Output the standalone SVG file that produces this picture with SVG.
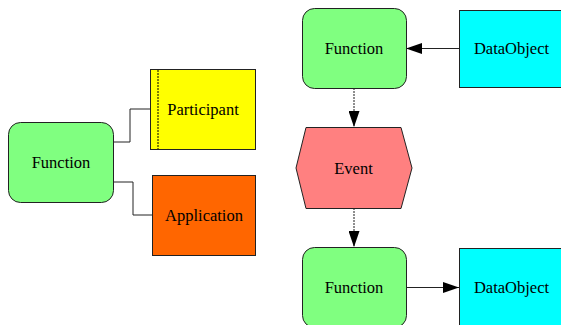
<svg xmlns="http://www.w3.org/2000/svg" width="561" height="325" viewBox="0 0 561 325">
  <style>
    text { font-family: "Liberation Serif", "DejaVu Serif", serif; font-size: 16.5px; fill: #000; text-anchor: middle; }
    .fn { fill: #80ff80; stroke: #222; stroke-width: 1; }
    .data { fill: #00ffff; stroke: #222; stroke-width: 1; }
    .ev { fill: #ff8080; stroke: #222; stroke-width: 1; }
    .part { fill: #ffff00; stroke: #222; stroke-width: 1; }
    .app { fill: #ff6600; stroke: #222; stroke-width: 1; }
    .link { fill: none; stroke: #222; stroke-width: 1; }
    .flow { fill: none; stroke: #444; stroke-width: 1.2; stroke-dasharray: 2 1; }
  </style>
  <defs>
    <marker id="arrow" viewBox="0 0 16 11" refX="16" refY="5.5" markerWidth="16" markerHeight="11" markerUnits="userSpaceOnUse" orient="auto">
      <path d="M0,0 L16,5.5 L0,11 Z" fill="#000"/>
    </marker>
  </defs>
  <rect width="561" height="325" fill="#fff"/>

  <g id="connectors">
    <polyline class="link" points="113,142 130,142 130,109 150,109"/>
    <polyline class="link" points="113,182 133,182 133,215 152,215"/>
    <line class="link" x1="459" y1="48.5" x2="406" y2="48.5" marker-end="url(#arrow)"/>
    <line class="flow" x1="354" y1="88" x2="354" y2="127" marker-end="url(#arrow)"/>
    <line class="flow" x1="354" y1="208" x2="354" y2="247" marker-end="url(#arrow)"/>
    <line class="link" x1="406" y1="287.5" x2="459" y2="287.5" marker-end="url(#arrow)"/>
  </g>

  <g id="function-left">
    <rect class="fn" x="8.5" y="122.5" width="105" height="80" rx="12"/>
    <text x="61" y="168">Function</text>
  </g>
  <g id="participant">
    <rect class="part" x="150.5" y="69.5" width="105" height="80"/>
    <line x1="158" y1="70" x2="158" y2="149" stroke="#000" stroke-width="1" stroke-dasharray="2 1"/>
    <text x="203" y="115">Participant</text>
  </g>
  <g id="application">
    <rect class="app" x="152.5" y="175.5" width="103" height="80"/>
    <text x="204" y="221">Application</text>
  </g>
  <g id="function-top">
    <rect class="fn" x="302.5" y="8.5" width="104" height="80" rx="12"/>
    <text x="354" y="54">Function</text>
  </g>
  <g id="dataobject-top">
    <rect class="data" x="459.5" y="10.5" width="110" height="77"/>
    <text x="511.5" y="54">DataObject</text>
  </g>
  <g id="event">
    <polygon class="ev" points="296,168 306,127.5 401,127.5 412,168 401,208.5 306,208.5"/>
    <text x="353.5" y="173.5">Event</text>
  </g>
  <g id="function-bottom">
    <rect class="fn" x="302.5" y="247.5" width="104" height="80" rx="12"/>
    <text x="354" y="293">Function</text>
  </g>
  <g id="dataobject-bottom">
    <rect class="data" x="459.5" y="248.5" width="110" height="80"/>
    <text x="511.5" y="293">DataObject</text>
  </g>
</svg>
